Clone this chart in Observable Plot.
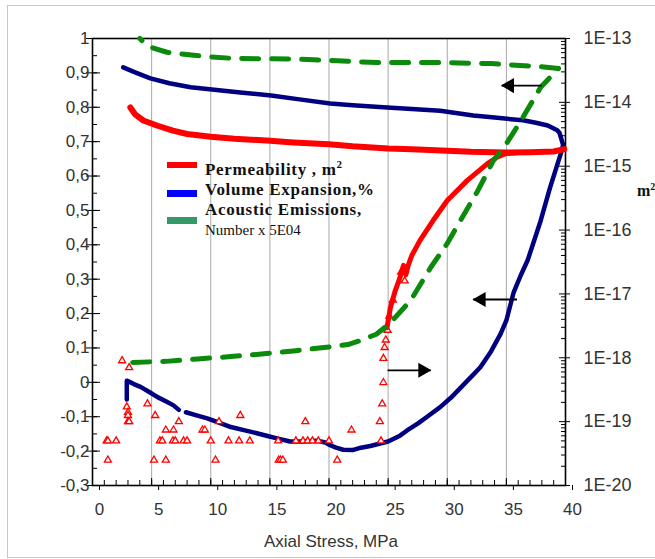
<!DOCTYPE html>
<html>
<head>
<meta charset="utf-8">
<script src="https://cdn.jsdelivr.net/npm/d3@7"></script>
<script src="https://cdn.jsdelivr.net/npm/@observablehq/plot@0.6"></script>
<style>
html, body { margin: 0; padding: 0; background: #fff; }
#chart { position: relative; width: 655px; height: 559px; overflow: hidden; background: #fff; }
#chart svg { position: absolute; left: 0; top: 0; background: transparent; }
#border { position: absolute; left: 7px; top: 5px; width: 660px; height: 553px; border: 1.5px solid #c6c6c6; box-sizing: border-box; }
.lg { position: absolute; font-family: "Liberation Serif", "Times New Roman", serif; color: #111; white-space: nowrap; }
.lgt { font-size: 17px; font-weight: bold; line-height: 18px; letter-spacing: 0.7px; }
.lgs { font-size: 15px; line-height: 17px; }
.sup { position: relative; top: -7px; font-size: 11px; line-height: 0; vertical-align: baseline; }
.sw { position: absolute; left: 167px; width: 30px; }
#xlabel { position: absolute; left: 181px; width: 300px; top: 532px; text-align: center; font-family: "Liberation Sans", Arial, sans-serif; font-size: 17px; line-height: 20px; color: #333; }
</style>
</head>
<body>
<div id="chart"></div>
<script>
// ---------- data ----------
const xTicks = [0, 5, 10, 15, 20, 25, 30, 35, 40];
const xTickLabels = ["0", "5", "10", "15", "20", "25", "30", "35", "40"];
const xGrid = [5, 10, 15, 20, 25, 30, 35];
const xMinorTicks = d3.range(0, 41, 1);

const leftTicks = [-0.3, -0.2, -0.1, 0, 0.1, 0.2, 0.3, 0.4, 0.5, 0.6, 0.7, 0.8, 0.9, 1];
const leftTickLabels = ["-0,3", "-0,2", "-0,1", "0", "0,1", "0,2", "0,3", "0,4", "0,5", "0,6", "0,7", "0,8", "0,9", "1"];
const leftMinorTicks = d3.range(-0.3, 1.001, 0.05);

const rightTicks = [1e-20, 1e-19, 1e-18, 1e-17, 1e-16, 1e-15, 1e-14, 1e-13];
const rightTickLabels = ["1E-20", "1E-19", "1E-18", "1E-17", "1E-16", "1E-15", "1E-14", "1E-13"];
const rightMinorTicks = rightTicks.slice(0, -1).flatMap(d => [2,3,4,5,6,7,8,9].map(m => m * d));

// Volume expansion, % (left axis) : [axial stress MPa, value]
const volumeLoading = [
  [2.9,-0.05],[2.9,0.005],[3.5,-0.005],[4.1,-0.014],[4.8,-0.028],[5.5,-0.043],[6.2,-0.055],
  [6.85,-0.067],[7.3,-0.08],[7.55,null],[7.9,-0.087],[8.8,-0.096],[9.7,-0.105],[10.7,-0.117],
  [11.7,-0.13],[12.8,-0.139],[13.9,-0.148],[14.8,-0.156],[15.6,-0.163],[16.7,-0.172],[17.8,-0.172],
  [19,-0.17],[19.7,-0.175],[20.1,-0.183],[20.6,-0.19],[21.2,-0.196],[22,-0.197],[22.7,-0.19],
  [23.5,-0.185],[24.4,-0.177],[25,-0.172],[26,-0.155],[26.6,-0.14],[27.5,-0.12],[28.3,-0.1],
  [29.4,-0.072],[30.3,-0.045],[31.1,-0.017],[32,0.015],[32.8,0.044],[33.7,0.09],[34.5,0.14],
  [35,0.18],[35.6,0.26],[36.2,0.31],[36.8,0.355],[37.9,0.47],[38.7,0.567],[39.6,0.665],[39.8,0.69]
];
const volumeUnloading = [
  [39.8,0.69],[39.5,0.725],[39.3,0.733],[38.5,0.747],[37.5,0.755],[36.4,0.762],[34,0.77],
  [32.2,0.776],[29.4,0.79],[27,0.795],[24.6,0.8],[22,0.806],[20.1,0.811],[17.5,0.823],
  [15.1,0.834],[12.5,0.843],[10.1,0.852],[8.3,0.858],[6.5,0.87],[4.9,0.884],[3.5,0.903],[2.6,0.916]
];

// Acoustic emissions, number x 5E04 (left axis)
const aeLoading = [
  [3.4,0.058],[6.2,0.061],[8.9,0.068],[11.7,0.075],[14.5,0.083],[17.2,0.092],[20,0.103],
  [21.6,0.11],[22.7,0.122],[24,0.14],[24.9,0.165],[25.5,0.185],[26.9,0.238],[28.6,0.334],
  [30,0.404],[31.1,0.47],[32.6,0.558],[33.9,0.645],[34.8,0.683],[36.3,0.765],[37.9,0.858],[39.4,0.913]
];
const aeUnloading = [
  [39.4,0.913],[37.9,0.918],[33.7,0.927],[29.4,0.93],[24.1,0.93],[17.3,0.94],[11.9,0.942],
  [9.4,0.948],[6.3,0.96],[4.9,0.975],[4.3,0.99],[4.0,1.0]
];

// Permeability, m^2 (right axis, log)
const permLoading = [
  [24.9,2.95e-18],[25.2,6.2e-18],[25.6,1.12e-17],[26.0,1.8e-17],[26.3,2.8e-17],[26.5,2.0e-17],
  [26.7,2.8e-17],[27.0,4.0e-17],[27.7,6.9e-17],[28.8,1.41e-16],[30,2.9e-16],[31.7,6.0e-16],
  [33.4,1.1e-15],[34.2,1.38e-15],[35,1.58e-15],[36,1.64e-15]
];
const permUnloading = [
  [39.9,1.85e-15],[39,1.7e-15],[37,1.66e-15],[35,1.64e-15],[32,1.68e-15],[30,1.75e-15],
  [27,1.85e-15],[25,1.9e-15],[22,2.05e-15],[20,2.2e-15],[17,2.35e-15],[15,2.5e-15],
  [12,2.7e-15],[10,2.9e-15],[8,3.2e-15],[6.8,3.6e-15],[5.5,4.3e-15],[4.3,5.2e-15],
  [3.6,6.5e-15],[3.2,8.3e-15]
];
const permPoints = [
  [1.2,5e-20],[1.3,5e-20],[2.0,5e-20],[1.3,2.5e-20],[2.5,9e-19],[3.1,7e-19],
  [2.9,1.7e-19],[3.0,1.4e-19],[3.0,1.25e-19],[3.0,1e-19],[3.1,1e-19],
  [4.65,1.9e-19],[5.3,1.25e-19],[5.2,2.5e-20],[6.2,7.4e-20],[6.85,7.4e-20],[6.2,2.5e-20],
  [5.7,5e-20],[5.9,5e-20],[6.8,5e-20],[7.0,5e-20],[7.7,5e-20],[8.0,5e-20],[7.3,1e-19],
  [9.3,7.4e-20],[9.5,7.4e-20],[10.0,5e-20],[10.4,2.5e-20],[10.7,1e-19],
  [11.5,5e-20],[12.5,1.25e-19],[12.4,5e-20],[13.3,5e-20],
  [15.7,5e-20],[15.75,2.5e-20],[15.9,2.5e-20],[16.1,2.5e-20],
  [17.2,5e-20],[17.8,5e-20],[18.2,5e-20],[18.6,5e-20],[19.1,5e-20],[18.0,1e-19],
  [20.0,5e-20],[20.7,2.5e-20],[21.9,7.4e-20],
  [24.3,1e-19],[24.4,5e-20],[24.5,1.9e-19],[24.6,4.1e-19],[24.6,9.8e-19],[24.7,1.45e-18],
  [24.8,1.9e-18],[24.95,2.7e-18],[25.1,4.5e-18],[25.4,8e-18],[26.1,2.2e-17],[26.4,1.6e-17]
];

// arrows: [x tail, x head, y (left-axis units)]
const arrowsLeft = [[38.0, 34.6, 0.863], [35.9, 32.2, 0.241]];
const arrowsRight = [[24.95, 28.6, 0.035]];

// ---------- chart ----------
const W = 655, H = 559;
const common = {
  width: W, height: H,
  marginLeft: 92, marginRight: 90, marginTop: 38, marginBottom: 74,
  x: {domain: [0, 40]},
  style: {background: "transparent", fontFamily: "'Liberation Sans', Arial, sans-serif", fontSize: "17px", color: "#333", overflow: "visible"}
};
const X = d => d[0], Y = d => d[1];
const noLabel = () => "";

const base = Plot.plot({
  ...common,
  y: {domain: [-0.3, 1]},
  marks: [
    Plot.ruleX(xGrid, {stroke: "#a8a8a8", strokeWidth: 1}),
    Plot.axisY(leftMinorTicks, {anchor: "left", tickSize: -5, tickFormat: noLabel, label: null, stroke: "#000"}),
    Plot.axisY(leftTicks, {anchor: "left", tickSize: -8, tickFormat: noLabel, label: null, stroke: "#000"}),
    Plot.axisY(leftTicks, {anchor: "left", tickSize: 6, tickPadding: -3, label: null, stroke: "#000",
      tickFormat: d => leftTickLabels[leftTicks.indexOf(d)]}),
    Plot.axisX(xMinorTicks, {anchor: "bottom", tickSize: -5, tickFormat: noLabel, label: null, stroke: "#000"}),
    Plot.axisX(xTicks, {anchor: "bottom", tickSize: -7, tickFormat: noLabel, label: null, stroke: "#000"}),
    Plot.axisX(xTicks, {anchor: "bottom", tickSize: 5, tickPadding: 12, dx: 7, label: null, stroke: "#000",
      tickFormat: d => xTickLabels[xTicks.indexOf(d)]}),
    Plot.line(volumeLoading, {x: X, y: Y, stroke: "#000080", strokeWidth: 4.5}),
    Plot.line(volumeUnloading, {x: X, y: Y, stroke: "#000080", strokeWidth: 4.5}),
    Plot.frame({stroke: "#000", strokeWidth: 1.6})
  ]
});

const logLayer = Plot.plot({
  ...common,
  x: {domain: [0, 40], axis: null},
  y: {type: "log", domain: [1e-20, 1e-13]},
  marks: [
    Plot.axisY(rightMinorTicks, {anchor: "right", tickSize: -5, tickFormat: noLabel, label: null, stroke: "#000"}),
    Plot.axisY(rightTicks, {anchor: "right", tickSize: -7, tickFormat: noLabel, label: null, stroke: "#000"}),
    Plot.axisY(rightTicks, {anchor: "right", tickSize: 4, tickPadding: 14, label: null, stroke: "#000", fontSize: 18,
      tickFormat: d => rightTickLabels[rightTicks.indexOf(d)]}),
    Plot.dot(permPoints, {x: X, y: Y, symbol: "triangle", r: 2.6, stroke: "#ff0000", fill: "#fff", strokeWidth: 1.3}),
    Plot.line(permLoading, {x: X, y: Y, stroke: "#ff0000", strokeWidth: 5}),
    Plot.line(permUnloading, {x: X, y: Y, stroke: "#ff0000", strokeWidth: 6})
  ]
});

const topLayer = Plot.plot({
  ...common,
  x: {domain: [0, 40], axis: null},
  y: {domain: [-0.3, 1], axis: null},
  marks: [
    Plot.line(aeLoading, {x: X, y: Y, stroke: "#0b8a0b", strokeWidth: 5, strokeDasharray: "17,13"}),
    Plot.line(aeUnloading, {x: X, y: Y, stroke: "#0b8a0b", strokeWidth: 5, strokeDasharray: "17,13"}),
    Plot.link(arrowsLeft, {x1: d => d[0], x2: d => d[1], y1: d => d[2], y2: d => d[2], stroke: "#000", strokeWidth: 1.8}),
    Plot.dot(arrowsLeft, {x: d => d[1], y: d => d[2], symbol: "triangle", rotate: -90, r: 5.6, fill: "#000", dx: 8}),
    Plot.link(arrowsRight, {x1: d => d[0], x2: d => d[1], y1: d => d[2], y2: d => d[2], stroke: "#000", strokeWidth: 1.8}),
    Plot.dot(arrowsRight, {x: d => d[1], y: d => d[2], symbol: "triangle", rotate: 90, r: 5.6, fill: "#000", dx: -8})
  ]
});

const chart = document.getElementById("chart");
const border = document.createElement("div");
border.id = "border";
chart.appendChild(border);
chart.appendChild(base);
chart.appendChild(logLayer);
chart.appendChild(topLayer);

// legend and labels
const html = `
<div class="sw" style="top:162px;height:6px;background:#ff0000"></div>
<div class="sw" style="top:190px;height:7px;background:#0000ff"></div>
<div class="sw" style="top:217px;height:7px;background:#339966"></div>
<div class="lg lgt" style="left:205px;top:161px">Permeability , m<span class="sup">2</span></div>
<div class="lg lgt" style="left:205px;top:181px">Volume Expansion,%</div>
<div class="lg lgt" style="left:205px;top:201px">Acoustic Emissions,</div>
<div class="lg lgs" style="left:205px;top:222px">Number x 5E04</div>
<div class="lg" style="left:637px;top:182px;font-size:16px;line-height:18px;font-weight:bold">m<span class="sup" style="font-size:10px;top:-6px">2</span></div>
<div id="xlabel">Axial Stress, MPa</div>`;
chart.insertAdjacentHTML("beforeend", html);
</script>
</body>
</html>
